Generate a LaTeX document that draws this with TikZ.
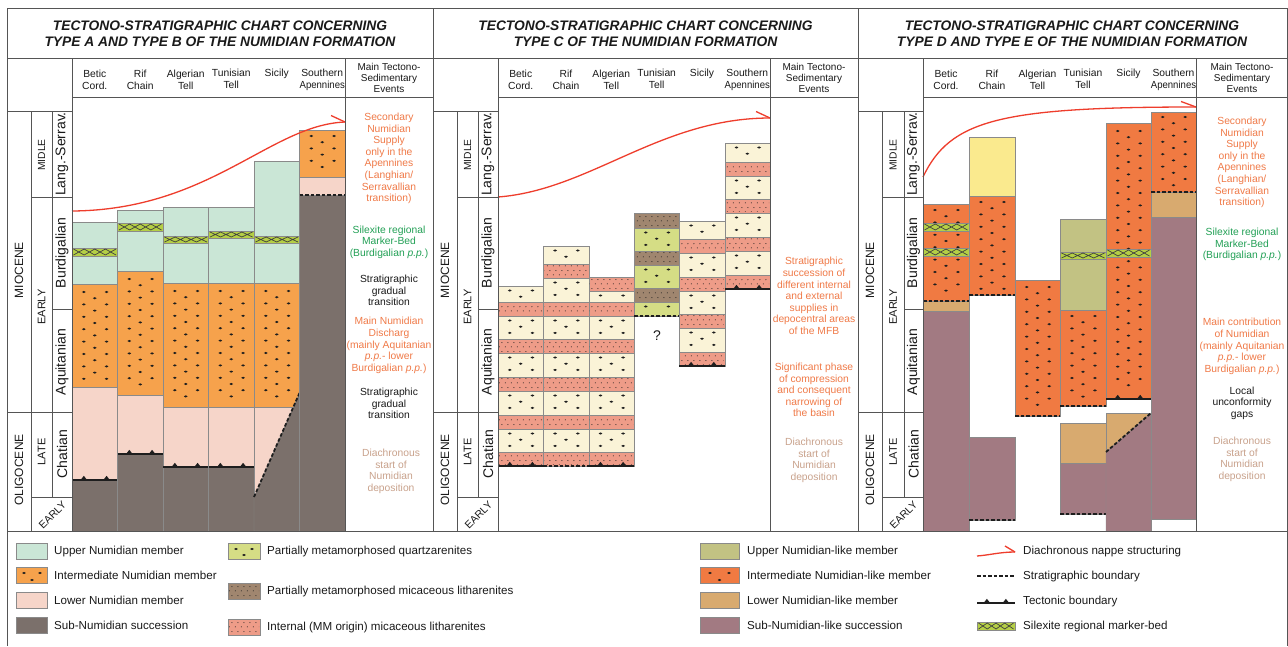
\documentclass[tikz,border=0pt]{standalone}
\usepackage{fontspec}
\setmainfont{Liberation Sans}
\usetikzlibrary{patterns}
\definecolor{upc}{HTML}{CAE6D6}
\definecolor{intc}{HTML}{F6A24C}
\definecolor{lowc}{HTML}{F6D5C9}
\definecolor{subc}{HTML}{7B706B}
\definecolor{markc}{HTML}{B5CF45}
\definecolor{creamc}{HTML}{FAF3D7}
\definecolor{micac}{HTML}{EE9C88}
\definecolor{pmqc}{HTML}{D5DD85}
\definecolor{pmmc}{HTML}{A0866F}
\definecolor{uplc}{HTML}{C2C283}
\definecolor{intlc}{HTML}{F07A42}
\definecolor{lowlc}{HTML}{D8AA6F}
\definecolor{sublc}{HTML}{A27A82}
\definecolor{yelc}{HTML}{FAEA8E}
\definecolor{redc}{HTML}{EE3D2C}
\definecolor{orc}{HTML}{F07A48}
\definecolor{grc}{HTML}{22A055}
\definecolor{tanc}{HTML}{C9A28C}
\definecolor{framec}{HTML}{555555}
\definecolor{edgec}{HTML}{8A8A8A}
\definecolor{dotc}{HTML}{1E1E1E}
\definecolor{txtc}{HTML}{1A1A1A}
\pgfdeclarepatternformonly{mica}{\pgfpointorigin}{\pgfpoint{6pt}{9pt}}{\pgfpoint{6pt}{9pt}}{%
  \pgfpathcircle{\pgfpoint{1.5pt}{2.25pt}}{0.6pt}%
  \pgfpathcircle{\pgfpoint{4.5pt}{6.75pt}}{0.6pt}%
  \pgfusepath{fill}}
% filled block
\newcommand\blk[5]{\filldraw[fill=#1,draw=edgec,line width=0.4pt] (#2,#3) rectangle (#4,#5);}
% coarse dots: x0 y0 x1 y1 margin
\newcommand\qd[5]{%
  \pgfmathsetmacro\qh{#4-#2-2*#5}%
  \pgfmathtruncatemacro\qn{max(0,floor(\qh/6.2))}%
  \foreach \r in {0,...,\qn}{%
    \pgfmathsetmacro\qy{#2+#5+6.2*\r}%
    \ifodd\r
      \fill[dotc] ({(#1+#3)/2},\qy) ellipse (1.9 and 1.1);%
    \else
      \fill[dotc] ({#1+0.26*(#3-#1)},\qy) ellipse (1.9 and 1.1);%
      \fill[dotc] ({#1+0.76*(#3-#1)},\qy) ellipse (1.9 and 1.1);%
    \fi}}
\newcommand\crm[4]{\blk{creamc}{#1}{#2}{#3}{#4}\qd{#1}{#2}{#3}{#4}{4.5}}
\newcommand\qz[4]{\blk{pmqc}{#1}{#2}{#3}{#4}\qd{#1}{#2}{#3}{#4}{4.5}}
\newcommand\pk[4]{\blk{micac}{#1}{#2}{#3}{#4}\fill[pattern=mica,pattern color=dotc] (#1+1,#2+1.5) rectangle (#3-1,#4-1.5);}
\newcommand\pmm[4]{\blk{pmmc}{#1}{#2}{#3}{#4}\fill[pattern=mica,pattern color=dotc] (#1+1,#2+1.5) rectangle (#3-1,#4-1.5);}
% silexite marker bed
\newcommand\mk[4]{%
  \filldraw[fill=markc,draw=edgec,line width=0.3pt] (#1,#2) rectangle (#3,#4);
  \foreach \i in {0,1,2,3}{%
    \pgfmathsetmacro\ma{#1+1.5+\i*(#3-#1-3)/4}%
    \pgfmathsetmacro\mb{\ma+(#3-#1-3)/4}%
    \draw[dotc!85,line width=0.7pt] (\ma,#2+1) -- (\mb,#4-1) (\ma,#4-1) -- (\mb,#2+1);}}
\newcommand\tect[3]{%
  \draw[line width=1.9pt,dotc] (#1,#3) -- (#2,#3);
  \foreach \f in {0.26,0.76}{\fill[dotc] ({#1+\f*(#2-#1)-3.3},#3) -- ++(3.3,-4.2) -- ++(3.3,4.2) -- cycle;}}
\newcommand\strat[3]{\draw[line width=1.8pt,dotc,dash pattern=on 3.5pt off 2pt] (#1,#3) -- (#2,#3);}
\newcommand\midstack[2]{%
  \pk{#1}{302}{#2}{316}\crm{#1}{316}{#2}{339}\pk{#1}{339}{#2}{353}\crm{#1}{353}{#2}{377}%
  \pk{#1}{377}{#2}{391}\crm{#1}{391}{#2}{415}\pk{#1}{415}{#2}{429}\crm{#1}{429}{#2}{452}%
  \pk{#1}{452}{#2}{466}}
% time axis
\newcommand\taxis[5]{%
  \draw[frm] (#1,111) -- (#4,111) (#2,111) -- (#2,531) (#3,111) -- (#3,497)
    (#2,197) -- (#4,197) (#3,309) -- (#4,309) (#1,412) -- (#4,412) (#2,497) -- (#4,497);
  \node[tEpoch] (#5mio) at ({(#1+#2)/2},270) {MIOCENE};
  \node[tEpoch] (#5oli) at ({(#1+#2)/2},470) {OLIGOCENE};
  \node[tMid] (#5mid) at ({(#2+#3)/2},155) {MIDLE};
  \node[tSub] (#5em) at ({(#2+#3)/2},307) {EARLY};
  \node[tSub] (#5lo) at ({(#2+#3)/2},452) {LATE};
  \node[tStage] (#5ls) at ({(#3+#4)/2},154) {Lang.-Serrav.};
  \node[tStage] (#5bu) at ({(#3+#4)/2},253) {Burdigalian};
  \node[tStage] (#5aq) at ({(#3+#4)/2},362) {Aquitanian};
  \node[tStage] (#5ch) at ({(#3+#4)/2},454) {Chatian};
  \node[tDiag] (#5eo) at ({(#2+#4)/2+1},515) {EARLY};}
\newcommand\colheads[8]{%
  \node[hd] (#1a) at (#2,80) {Betic\\Cord.};
  \node[hd] (#1b) at (#3,80) {Rif\\Chain};
  \node[hd] (#1c) at (#4,80) {Algerian\\Tell};
  \node[hd] (#1d) at (#5,79) {Tunisian\\Tell};
  \node[hd] (#1e) at (#6,74) {Sicily};
  \node[hd] (#1f) at (#7,80) {Southern\\\scalebox{0.93}[1]{Apennines}};
  \node[eh] (#1g) at (#8,78) {Main Tectono-\\Sedimentary\\Events};}
\begin{document}
\begin{tikzpicture}[x=1pt,y=-1pt,
  frm/.style={draw=framec,line width=0.8pt},
  evt/.style={font=\fontsize{10.3pt}{11.6pt}\selectfont,align=center,inner sep=0pt,text=txtc},
  hd/.style={font=\fontsize{10.3pt}{12pt}\selectfont,align=center,inner sep=0pt,text=txtc},
  eh/.style={font=\fontsize{10pt}{11pt}\selectfont,align=center,inner sep=0pt,text=txtc},
  ttl/.style={font=\fontsize{13.8pt}{16pt}\selectfont\bfseries\itshape,align=center,inner sep=0pt,text=txtc},
  lg/.style={font=\fontsize{11.6pt}{13pt}\selectfont,anchor=west,inner sep=0pt,text=txtc},
  tEpoch/.style={font=\fontsize{12pt}{13pt}\selectfont,rotate=90,inner sep=0pt,text=txtc},
  tSub/.style={font=\fontsize{11pt}{12pt}\selectfont,rotate=90,inner sep=0pt,text=txtc},
  tMid/.style={font=\fontsize{10.3pt}{12pt}\selectfont,rotate=90,inner sep=0pt,text=txtc},
  tStage/.style={font=\fontsize{14pt}{15pt}\selectfont,rotate=90,inner sep=0pt,text=txtc},
  tDiag/.style={font=\fontsize{10.5pt}{12pt}\selectfont,rotate=45,inner sep=0pt,text=txtc},
  nappe/.style={draw=redc,line width=1.3pt},
]
\fill[white] (0,0) rectangle (1288,646);
\useasboundingbox (0,0) rectangle (1288,646);

% ===================== LEFT PANEL =====================
% Betic
\blk{upc}{72}{222}{117.5}{284}\mk{72}{248}{117.5}{256}
\blk{intc}{72}{284}{117.5}{387}\qd{72}{284}{117.5}{387}{8}
\blk{lowc}{72}{387}{117.5}{480}
\blk{subc}{72}{480}{117.5}{531}\tect{72}{117.5}{480}
% Rif
\blk{upc}{117.5}{210}{163}{271}\mk{117.5}{223}{163}{231}
\blk{intc}{117.5}{271}{163}{395}\qd{117.5}{271}{163}{395}{8}
\blk{lowc}{117.5}{395}{163}{454}
\blk{subc}{117.5}{454}{163}{531}\tect{117.5}{163}{454}
% Algerian
\blk{upc}{163}{207}{208.5}{283}\mk{163}{236}{208.5}{243}
\blk{intc}{163}{283}{208.5}{407}\qd{163}{283}{208.5}{407}{8}
\blk{lowc}{163}{407}{208.5}{467}
\blk{subc}{163}{467}{208.5}{531}\tect{163}{208.5}{467}
% Tunisian
\blk{upc}{208.5}{207}{254}{283}\mk{208.5}{231}{254}{238}
\blk{intc}{208.5}{283}{254}{407}\qd{208.5}{283}{254}{407}{8}
\blk{lowc}{208.5}{407}{254}{467}
\blk{subc}{208.5}{467}{254}{531}\tect{208.5}{254}{467}
% Sicily
\blk{upc}{254}{161}{299.5}{283}\mk{254}{236}{299.5}{243}
\blk{intc}{254}{283}{299.5}{407}\qd{254}{283}{299.5}{407}{8}
\blk{lowc}{254}{407}{299.5}{531}
\coordinate (sLa) at (254,497); \coordinate (sLb) at (299.5,393);
\filldraw[fill=subc,draw=edgec,line width=0.4pt] (sLa) -- (sLb) -- (299.5,531) -- (254,531) -- cycle;
\draw[line width=1.8pt,dotc,dash pattern=on 3.5pt off 2pt] (sLa) -- (sLb);
% Southern Apennines
\blk{intc}{299.5}{130}{345}{177}\qd{299.5}{130}{345}{177}{6}
\blk{lowc}{299.5}{177}{345}{195}
\blk{subc}{299.5}{195}{345}{531}\strat{299.5}{345}{195}

% ===================== MIDDLE PANEL =====================
% Betic
\crm{498}{286}{543.3}{302}\midstack{498}{543.3}\tect{498}{543.3}{466}
% Rif
\crm{543.3}{246}{588.7}{264}\pk{543.3}{264}{588.7}{278}\crm{543.3}{278}{588.7}{302}
\midstack{543.3}{588.7}\strat{543.3}{588.7}{466}
% Algerian
\pk{588.7}{277}{634}{291}\crm{588.7}{291}{634}{302}\midstack{588.7}{634}\tect{588.7}{634}{466}
% Tunisian
\pmm{634}{213}{679.3}{228}\qz{634}{228}{679.3}{251}\pmm{634}{251}{679.3}{265}
\qz{634}{265}{679.3}{288}\pmm{634}{288}{679.3}{302}\qz{634}{302}{679.3}{316}
\strat{634}{679.3}{316}
\node[font=\fontsize{14pt}{15pt}\selectfont,text=txtc,inner sep=0pt] (qm) at (657,336) {?};
% Sicily
\crm{679.3}{221}{724.7}{239}\pk{679.3}{239}{724.7}{253}\crm{679.3}{253}{724.7}{277}
\pk{679.3}{277}{724.7}{291}\crm{679.3}{291}{724.7}{314}\pk{679.3}{314}{724.7}{328}
\crm{679.3}{328}{724.7}{352}\pk{679.3}{352}{724.7}{366}\tect{679.3}{724.7}{366}
% Southern Apennines
\crm{724.7}{143}{770}{162}\pk{724.7}{162}{770}{176}\crm{724.7}{176}{770}{199}
\pk{724.7}{199}{770}{213}\crm{724.7}{213}{770}{237}\pk{724.7}{237}{770}{251}
\crm{724.7}{251}{770}{275}\pk{724.7}{275}{770}{289}\tect{724.7}{770}{289}

% ===================== RIGHT PANEL =====================
% Betic
\blk{intlc}{923}{204}{969}{301}\qd{923}{204}{969}{301}{6}
\mk{923}{223}{969}{231}\mk{923}{248}{969}{256}
\blk{lowlc}{923}{301}{969}{311}
\blk{sublc}{923}{311}{969}{531}\strat{923}{969}{301}
% Rif
\blk{yelc}{969}{137}{1015}{196}
\blk{intlc}{969}{196}{1015}{295}\qd{969}{196}{1015}{295}{6}\strat{969}{1015}{295}
\blk{sublc}{969}{437}{1015}{520}\strat{969}{1015}{520}
% Algerian
\blk{intlc}{1015}{280}{1060}{416}\qd{1015}{280}{1060}{416}{7}\strat{1015}{1060}{416}
% Tunisian
\blk{uplc}{1060}{219}{1106}{310}\mk{1060}{252}{1106}{259}
\blk{intlc}{1060}{310}{1106}{406}\qd{1060}{310}{1106}{406}{6}\strat{1060}{1106}{406}
\blk{lowlc}{1060}{423}{1106}{463}
\blk{sublc}{1060}{463}{1106}{514}\strat{1060}{1106}{514}
% Sicily
\blk{intlc}{1106}{123}{1151}{399}\qd{1106}{123}{1151}{399}{8}
\mk{1106}{249}{1151}{257}\tect{1106}{1151}{399}
\blk{lowlc}{1106}{413}{1151}{531}
\coordinate (sRa) at (1106,452); \coordinate (sRb) at (1151,413);
\filldraw[fill=sublc,draw=edgec,line width=0.4pt] (sRa) -- (sRb) -- (1151,531) -- (1106,531) -- cycle;
\draw[line width=1.8pt,dotc,dash pattern=on 3.5pt off 2pt] (sRa) -- (sRb);
% Southern Apennines
\blk{intlc}{1151}{112}{1196}{192}\qd{1151}{112}{1196}{192}{5}
\blk{lowlc}{1151}{192}{1196}{217}\strat{1151}{1196}{192}
\blk{sublc}{1151}{217}{1196}{519}

% ===================== NAPPE ARROWS =====================
\coordinate (aL0) at (72,211); \coordinate (aL1) at (345,122);
\draw[nappe] (aL0) .. controls (210,210) and (270,125) .. (aL1);
\draw[nappe] (aL1) -- ++(-14,-6.5);
\coordinate (aM0) at (498,197); \coordinate (aM1) at (770,118);
\draw[nappe] (aM0) .. controls (590,190) and (660,118) .. (aM1);
\draw[nappe] (aM1) -- ++(-14,-6.5);
\coordinate (aR0) at (923,177); \coordinate (aR1) at (1196,107);
\draw[nappe] (aR0) .. controls (950,120) and (1000,107) .. (aR1);
\draw[nappe] (aR1) -- ++(-15,-5.5);

% ===================== FRAME =====================
\draw[frm] (7,8) -- (1287,8) (7,8) -- (7,646) (1287,8) -- (1287,646)
  (7,58) -- (1287,58) (7,531) -- (1287,531) (433,8) -- (433,531) (858,8) -- (858,531)
  (72,58) -- (72,531) (345,58) -- (345,531) (72,97) -- (433,97)
  (498,58) -- (498,531) (770,58) -- (770,531) (498,97) -- (858,97)
  (923,58) -- (923,531) (1196,58) -- (1196,531) (923,97) -- (1287,97);
\taxis{7}{31}{52}{72}{L}
\taxis{433}{457}{478}{498}{M}
\taxis{858}{882}{904}{923}{R}

% titles
\node[ttl] (T1) at (220,34) {TECTONO-STRATIGRAPHIC CHART CONCERNING\\TYPE A AND TYPE B OF THE NUMIDIAN FORMATION};
\node[ttl] (T2) at (645.5,34) {TECTONO-STRATIGRAPHIC CHART CONCERNING\\TYPE C OF THE NUMIDIAN FORMATION};
\node[ttl] (T3) at (1072,34) {TECTONO-STRATIGRAPHIC CHART CONCERNING\\TYPE D AND TYPE E OF THE NUMIDIAN FORMATION};
\colheads{hL}{94.75}{140.25}{185.75}{231.25}{276.75}{322.25}{389}
\colheads{hM}{520.7}{566}{611.3}{656.7}{702}{747.3}{814}
\colheads{hR}{946}{992}{1037.5}{1083}{1128.5}{1173.5}{1242}

% events
\node[evt,text=orc] (eL1) at (389,158.5) {Secondary\\Numidian\\Supply\\only in the\\Apennines\\(Langhian/\\Serravallian\\transition)};
\node[evt,text=grc] (eL2) at (389,242) {Silexite regional\\Marker-Bed\\(Burdigalian \textit{p.p.})};
\node[evt] (eL3) at (389,290.5) {Stratigraphic\\gradual\\transition};
\node[evt,text=orc] (eL4) at (389,345.5) {Main Numidian\\Discharg\\(mainly Aquitanian\\\textit{p.p.}- lower\\Burdigalian \textit{p.p.})};
\node[evt] (eL5) at (389,403.5) {Stratigraphic\\gradual\\transition};
\node[evt,text=tanc] (eL6) at (391,471.5) {Diachronous\\start of\\Numidian\\deposition};
\node[evt,text=orc] (eM1) at (814,296) {Stratigraphic\\succession of\\different internal\\and external\\supplies in\\depocentral areas\\of the MFB};
\node[evt,text=orc] (eM2) at (814,390) {Significant phase\\of compression\\and consequent\\narrowing of\\the basin};
\node[evt,text=tanc] (eM3) at (814,460.5) {Diachronous\\start of\\Numidian\\deposition};
\node[evt,text=orc] (eR1) at (1242,162.5) {Secondary\\Numidian\\Supply\\only in the\\Apennines\\(Langhian/\\Serravallian\\transition)};
\node[evt,text=grc] (eR2) at (1242,244.5) {Silexite regional\\Marker-Bed\\(Burdigalian \textit{p.p.})};
\node[evt,text=orc] (eR3) at (1242,346.5) {Main contribution\\of Numidian\\(mainly Aquitanian\\\textit{p.p.}- lower\\Burdigalian \textit{p.p.})};
\node[evt] (eR4) at (1242,403) {Local\\unconformity\\gaps};
\node[evt,text=tanc] (eR5) at (1242,459.5) {Diachronous\\start of\\Numidian\\deposition};

% ===================== LEGEND =====================
\blk{upc}{16}{543}{47}{559}
\blk{intc}{16}{567}{47}{583}
\fill[dotc] (24,573) ellipse (1.9 and 1.1) (40,573) ellipse (1.9 and 1.1) (32,580) ellipse (1.9 and 1.1);
\blk{lowc}{16}{592}{47}{608}
\blk{subc}{16}{617}{47}{633}
\node[lg] (l1) at (54,551) {Upper Numidian member};
\node[lg] (l2) at (54,575) {Intermediate Numidian member};
\node[lg] (l3) at (54,600) {Lower Numidian member};
\node[lg] (l4) at (54,625) {Sub-Numidian succession};
\blk{pmqc}{228}{543}{260}{559}
\fill[dotc] (236,549) ellipse (1.9 and 1.1) (252,549) ellipse (1.9 and 1.1) (244,555) ellipse (1.9 and 1.1);
\pmm{228}{583}{260}{599}
\pk{228}{619}{260}{635}
\node[lg] (l5) at (267,551) {Partially metamorphosed quartzarenites};
\node[lg] (l6) at (267,591) {Partially metamorphosed micaceous litharenites};
\node[lg] (l7) at (267,627) {Internal (MM origin) micaceous litharenites};
\blk{uplc}{700}{543}{739}{559}
\blk{intlc}{700}{567}{739}{583}
\fill[dotc] (710,573) ellipse (1.9 and 1.1) (729,573) ellipse (1.9 and 1.1) (719.5,580) ellipse (1.9 and 1.1);
\blk{lowlc}{700}{592}{739}{608}
\blk{sublc}{700}{617}{739}{633}
\node[lg] (l8) at (747,551) {Upper Numidian-like member};
\node[lg] (l9) at (747,575) {Intermediate Numidian-like member};
\node[lg] (l10) at (747,600) {Lower Numidian-like member};
\node[lg] (l11) at (747,625) {Sub-Numidian-like succession};
\coordinate (gA0) at (977,556); \coordinate (gA1) at (1015,552);
\draw[nappe] (gA0) .. controls (990,555) and (1000,552) .. (gA1);
\draw[nappe] (gA1) -- ++(-10,-6);
\strat{977}{1015}{576}
\tect{977}{1015}{603}
\mk{977}{622}{1015}{630}
\node[lg] (l12) at (1023,551) {Diachronous nappe structuring};
\node[lg] (l13) at (1023,576) {Stratigraphic boundary};
\node[lg] (l14) at (1023,601) {Tectonic boundary};
\node[lg] (l15) at (1023,626) {Silexite regional marker-bed};
\end{tikzpicture}
\end{document}
